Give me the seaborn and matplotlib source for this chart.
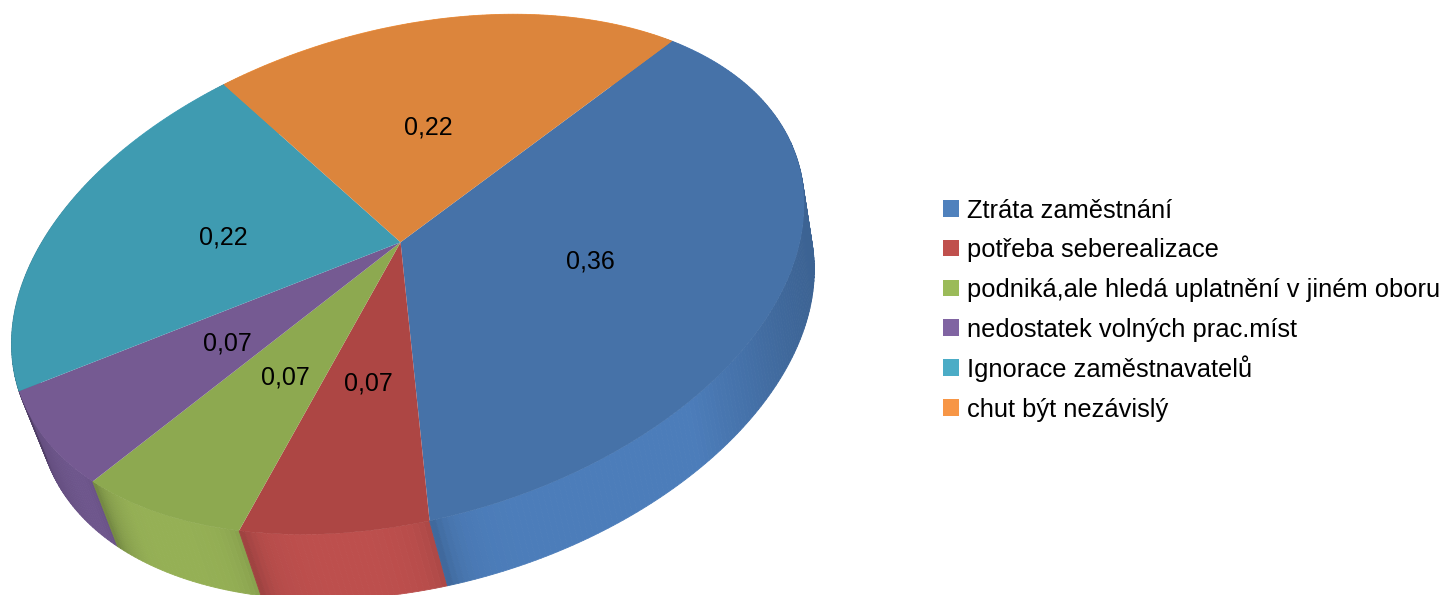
import numpy as np
import seaborn as sns
import matplotlib.pyplot as plt
from matplotlib.patches import Rectangle
from matplotlib.transforms import Transform

sns.set_theme(style="white")
plt.rcParams['font.family'] = ['Liberation Sans', 'DejaVu Sans']

categories = ['Ztráta zaměstnání', 'potřeba seberealizace',
              'podniká,ale hledá uplatnění v jiném oboru',
              'nedostatek volných prac.míst', 'Ignorace zaměstnavatelů',
              'chut být nezávislý']
values = [0.36, 0.07, 0.07, 0.07, 0.22, 0.22]

legend_colors = ['#4F81BD', '#C0504D', '#9BBB59', '#8064A2', '#4BACC6', '#F79646']
top_colors = ['#4672A8', '#AD4644', '#8DA950', '#755A92', '#3F9BB1', '#DC853C']
side_colors = ['#4C7DBA', '#BD4F4D', '#95B055', '#7C619E', '#4BA5BE', '#F0923F']

# where the slice borders land in the picture, used to fit the tilt of the pie
rim_pixels = [(670, 38), (430, 520), (238, 530), (92, 482), (18, 388), (224, 85)]
center_pixel = (401, 243)
label_pixels = [(590, 262), (368, 384), (285, 377), (227, 343), (223, 237), (428, 128)]

W, H = 1449, 595
LEGEND_STEP = 39.8


def fit_tilt():
    frac = np.cumsum([0] + values[:-1]) / sum(values)
    src = [(np.cos(-2 * np.pi * f), np.sin(-2 * np.pi * f)) for f in frac] + [(0, 0)]
    dst = rim_pixels + [center_pixel]
    weights = [1] * len(rim_pixels) + [3]
    rows = []
    for (x, y), (u, v), w in zip(src, dst, weights):
        rows.append([w * a for a in [x, y, 1, 0, 0, 0, -u * x, -u * y, -u]])
        rows.append([w * a for a in [0, 0, 0, x, y, 1, -v * x, -v * y, -v]])
    return np.linalg.svd(np.array(rows))[2][-1].reshape(3, 3)


TILT = fit_tilt()


def project(xy):
    xy = np.asarray(xy, dtype=float)
    p = np.column_stack([xy, np.ones(len(xy))]) @ TILT.T
    return p[:, :2] / p[:, 2:]


class PieTilt(Transform):
    input_dims = 2
    output_dims = 2
    has_inverse = False

    def transform_non_affine(self, values):
        return project(values)


def shade(color, k):
    return tuple(min(c * k, 1) for c in plt.matplotlib.colors.to_rgb(color))


def draw_side(ax):
    edges = np.cumsum([0] + values) / sum(values)
    # back to front, so the hidden walls do not poke out on the left
    for i in [5, 4, 3, 2, 1, 0]:
        color = side_colors[i]
        ff = np.linspace(edges[i], edges[i + 1], max(int((edges[i + 1] - edges[i]) * 500), 8))
        rim = project(np.column_stack([np.cos(-2 * np.pi * ff), np.sin(-2 * np.pi * ff)]))
        low = rim + np.column_stack([27 - 0.021 * rim[:, 0], np.full(len(rim), 65)])
        for j in range(len(ff) - 1):
            mid_x = rim[j, 0]
            k = 1 - 0.22 * np.clip((mid_x - 690) / 120, 0, 1)
            k -= 0.2 * np.clip((130 - mid_x) / 110, 0, 1)
            k -= 0.22 * np.exp(-(edges[i + 1] - ff[j]) / 0.006)
            k -= 0.08 * np.exp(-(ff[j] - edges[i]) / 0.006)
            c = shade(color, k)
            ax.fill([rim[j, 0], rim[j + 1, 0], low[j + 1, 0], low[j, 0]],
                    [rim[j, 1], rim[j + 1, 1], low[j + 1, 1], low[j, 1]],
                    color=c, lw=0.6, zorder=1)


def main():
    fig = plt.figure(figsize=(W / 100, H / 100), dpi=100)
    ax = fig.add_axes([0, 0, 1, 1])

    wedges, _ = ax.pie(values, colors=top_colors, startangle=0, counterclock=False,
                       wedgeprops={'linewidth': 0})
    for w in wedges:
        w.set_transform(PieTilt() + ax.transData)
        w.set_zorder(2)

    ax.set_aspect('auto')
    ax.set_xlim(0, W)
    ax.set_ylim(H, 0)
    ax.axis('off')

    draw_side(ax)

    for v, (x, y) in zip(values, label_pixels):
        ax.text(x, y, f'{v:.2f}'.replace('.', ','), ha='center', va='center',
                fontsize=18, color='black', zorder=3)

    # legend by hand, the built in one gives uneven rows with ů and ř
    for i, (c, t) in enumerate(zip(legend_colors, categories)):
        y = 200 + i * LEGEND_STEP
        ax.add_patch(Rectangle((943, y), 16, 16.5, facecolor=c, edgecolor='none', zorder=3))
        ax.text(967, y + 17.7, t, ha='left', va='baseline', fontsize=18.4, color='black', zorder=3)

    fig.savefig('out.png', dpi=100)


if __name__ == '__main__':
    main()
